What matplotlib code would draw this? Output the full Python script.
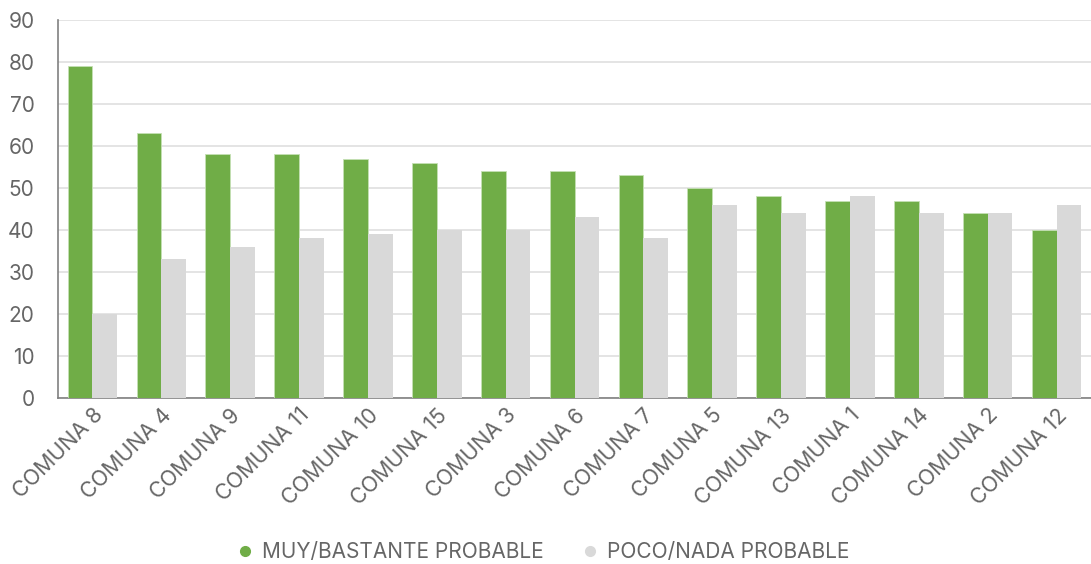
import matplotlib
matplotlib.use("Agg")
import matplotlib.pyplot as plt
from matplotlib.lines import Line2D
import numpy as np

comunas = ["COMUNA 8", "COMUNA 4", "COMUNA 9", "COMUNA 11", "COMUNA 10", "COMUNA 15",
           "COMUNA 3", "COMUNA 6", "COMUNA 7", "COMUNA 5", "COMUNA 13", "COMUNA 1",
           "COMUNA 14", "COMUNA 2", "COMUNA 12"]
muy_probable = [79, 63, 58, 58, 57, 56, 54, 54, 53, 50, 48, 47, 47, 44, 40]
poco_probable = [20, 33, 36, 38, 39, 40, 40, 43, 38, 46, 44, 48, 44, 44, 46]
series_names = ["MUY/BASTANTE PROBABLE", "POCO/NADA PROBABLE"]
yticks = [0, 10, 20, 30, 40, 50, 60, 70, 80, 90]

verde = "#70AD47"
gris = "#D9D9D9"
texto = "#666666"

plt.rcParams["font.family"] = ["Inter", "DejaVu Sans"]

fig = plt.figure(figsize=(10.91, 5.64), dpi=100)
ax = fig.add_axes([58 / 1091, 1 - 398 / 564, 1033 / 1091, 378 / 564])

x = np.arange(len(comunas))
w = 0.36
ax.bar(x - w / 2, muy_probable, w, color=verde, edgecolor="#C5E0B4", linewidth=0.6, zorder=3)
ax.bar(x + w / 2, poco_probable, w, color=gris, zorder=3)

ax.set_xlim(-0.5, len(comunas) - 0.5)
ax.set_ylim(0, 90)
ax.set_yticks(yticks)
ax.yaxis.grid(True, color="#DCDCDC", linewidth=1.1, zorder=0)
ax.set_axisbelow(True)

for s in ["top", "right"]:
    ax.spines[s].set_visible(False)
ax.spines["left"].set_color("#808080")
ax.spines["bottom"].set_color("#808080")
ax.spines["left"].set_linewidth(1.2)
ax.spines["bottom"].set_linewidth(1.2)

ax.tick_params(axis="y", length=0, pad=17, labelsize=15, labelcolor=texto)
ax.tick_params(axis="x", length=0, pad=5, labelsize=15.5, labelcolor=texto)
ax.set_xticks(x)
ax.set_xticklabels(comunas, rotation=45, ha="right", rotation_mode="anchor")

handles = [Line2D([], [], marker="o", linestyle="", color=verde, markersize=7),
           Line2D([], [], marker="o", linestyle="", color=gris, markersize=7)]
fig.legend(handles, series_names, loc="center", bbox_to_anchor=(0.492, 1 - 552 / 564),
           ncol=2, frameon=False, fontsize=15, labelcolor=texto, handletextpad=-0.2,
           columnspacing=1.25)

fig.savefig("out.png", dpi=100)
